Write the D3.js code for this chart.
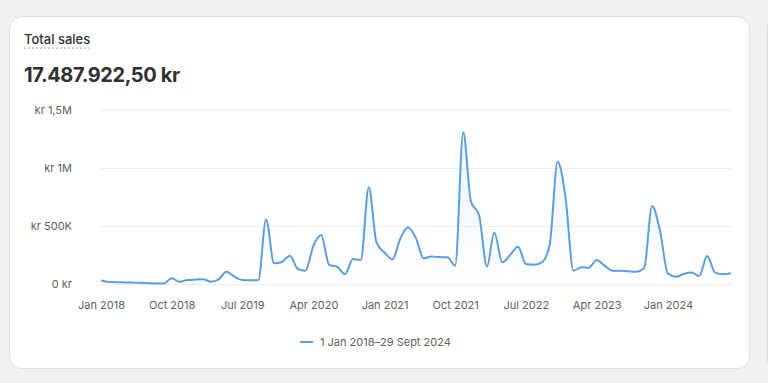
<!DOCTYPE html>
<html>
<head>
<meta charset="utf-8">
<script src="https://cdn.jsdelivr.net/npm/d3@7"></script>
<style>
  html, body { margin: 0; padding: 0; background: #f1f1f1; }
  body { width: 768px; height: 383px; overflow: hidden; font-family: Inter, "Noto Sans", sans-serif; }
</style>
</head>
<body>
<script>
// monthly totals, Jan 2018 .. Sep 2024 (kr)
var startMonth = new Date(2018, 0, 1);
var sales = [
  30000, 18000, 16000, 14000, 12000, 10000, 7000, 5000, 5000, 49000,
  20000, 34000, 38000, 40000, 20000, 40000, 106000, 63000, 34000, 32000,
  34000, 557000, 178000, 190000, 244000, 129000, 115000, 330000, 422000, 164000,
  149000, 86000, 215000, 207000, 833000, 356000, 270000, 213000, 380000, 489000,
  402000, 221000, 236000, 232000, 230000, 158000, 1308000, 710000, 595000, 149000,
  443000, 187000, 250000, 322000, 172000, 165000, 187000, 336000, 1055000, 753000,
  115000, 144000, 141000, 207000, 158000, 115000, 115000, 110000, 106000, 135000,
  672000, 465000, 90000, 63000, 86000, 100000, 69000, 241000, 100000, 83000,
  92000
];
var yTicks = [0, 500000, 1000000, 1500000];
var yTickLabels = ["0 kr", "kr 500K", "kr 1M", "kr 1,5M"];
var xTickLabels = ["Jan 2018", "Oct 2018", "Jul 2019", "Apr 2020", "Jan 2021", "Oct 2021", "Jul 2022", "Apr 2023", "Jan 2024"];
var title = "Total sales";
var total = "17.487.922,50 kr";
var legendLabel = "1 Jan 2018\u201329 Sept 2024";

var data = sales.map(function(v, i) {
  return { date: d3.timeMonth.offset(startMonth, i), value: v };
});

var width = 768, height = 383;
var lineColor = "#5a9ee0";

var svg = d3.select("body").append("svg")
    .attr("width", width)
    .attr("height", height);

// neighbouring card edge
svg.append("line")
    .attr("x1", 767.5).attr("x2", 767.5)
    .attr("y1", 25).attr("y2", 362)
    .attr("stroke", "#dcdcdc");

// card
svg.append("rect")
    .attr("x", 9.5).attr("y", 16.5)
    .attr("width", 740).attr("height", 352)
    .attr("rx", 12)
    .attr("fill", "#fff")
    .attr("stroke", "#e0e0e0");

svg.append("text")
    .attr("x", 24).attr("y", 44)
    .attr("font-size", 13).attr("font-weight", 550)
    .attr("fill", "#303030")
    .text(title);
svg.append("line")
    .attr("x1", 24).attr("x2", 91)
    .attr("y1", 48).attr("y2", 48)
    .attr("stroke", "#a8a8a8")
    .attr("stroke-dasharray", "2,2");

svg.append("text")
    .attr("x", 24).attr("y", 82)
    .attr("font-size", 20).attr("font-weight", 650)
    .attr("letter-spacing", -0.4)
    .attr("fill", "#303030")
    .text(total);

var x = d3.scaleTime()
    .domain([startMonth, data[data.length - 1].date])
    .range([101, 731]);
var y = d3.scaleLinear()
    .domain([0, 1500000])
    .range([284, 110]);

// grid
svg.append("g").selectAll("line")
    .data(yTicks)
    .enter().append("line")
    .attr("x1", 101).attr("x2", 731)
    .attr("y1", function(d) { return Math.round(y(d)) + 0.5; })
    .attr("y2", function(d) { return Math.round(y(d)) + 0.5; })
    .attr("stroke", "#ededed");

// y axis
var yAxis = d3.axisLeft(y).tickValues(yTicks).tickSize(0)
    .tickFormat(function(d, i) { return yTickLabels[i]; });
svg.append("g")
    .attr("transform", "translate(72,0)")
    .call(yAxis)
    .call(function(g) { g.select(".domain").remove(); })
    .selectAll("text")
    .attr("x", 0)
    .attr("font-family", "Inter, sans-serif")
    .attr("font-size", 11)
    .attr("fill", "#616161");

// x axis
var xTickDates = xTickLabels.map(function(l, i) { return d3.timeMonth.offset(startMonth, i * 9); });
var xAxis = d3.axisBottom(x).tickValues(xTickDates).tickSize(0)
    .tickFormat(function(d, i) { return xTickLabels[i]; });
svg.append("g")
    .attr("transform", "translate(0,295)")
    .call(xAxis)
    .call(function(g) { g.select(".domain").remove(); })
    .selectAll("text")
    .attr("y", 0).attr("dy", "0.35em").attr("transform", "translate(0,10)")
    .attr("font-family", "Inter, sans-serif")
    .attr("font-size", 11)
    .attr("fill", "#616161");

// area fill + line
var grad = svg.append("defs").append("linearGradient")
    .attr("id", "fade").attr("x1", 0).attr("x2", 0).attr("y1", 0).attr("y2", 1);
grad.append("stop").attr("offset", "0%").attr("stop-color", lineColor).attr("stop-opacity", 0.12);
grad.append("stop").attr("offset", "100%").attr("stop-color", lineColor).attr("stop-opacity", 0);

var area = d3.area()
    .x(function(d) { return x(d.date); })
    .y0(y(0))
    .y1(function(d) { return y(d.value); })
    .curve(d3.curveMonotoneX);
svg.append("path")
    .datum(data)
    .attr("d", area)
    .attr("fill", "url(#fade)");

var line = d3.line()
    .x(function(d) { return x(d.date); })
    .y(function(d) { return y(d.value); })
    .curve(d3.curveMonotoneX);
svg.append("path")
    .datum(data)
    .attr("d", line)
    .attr("fill", "none")
    .attr("stroke", lineColor)
    .attr("stroke-width", 2)
    .attr("stroke-linejoin", "round");

// legend
svg.append("line")
    .attr("x1", 300).attr("x2", 313)
    .attr("y1", 342).attr("y2", 342)
    .attr("stroke", lineColor).attr("stroke-width", 2);
svg.append("text")
    .attr("x", 320).attr("y", 342).attr("dy", "0.35em")
    .attr("font-size", 11)
    .attr("fill", "#616161")
    .text(legendLabel);
</script>
</body>
</html>
